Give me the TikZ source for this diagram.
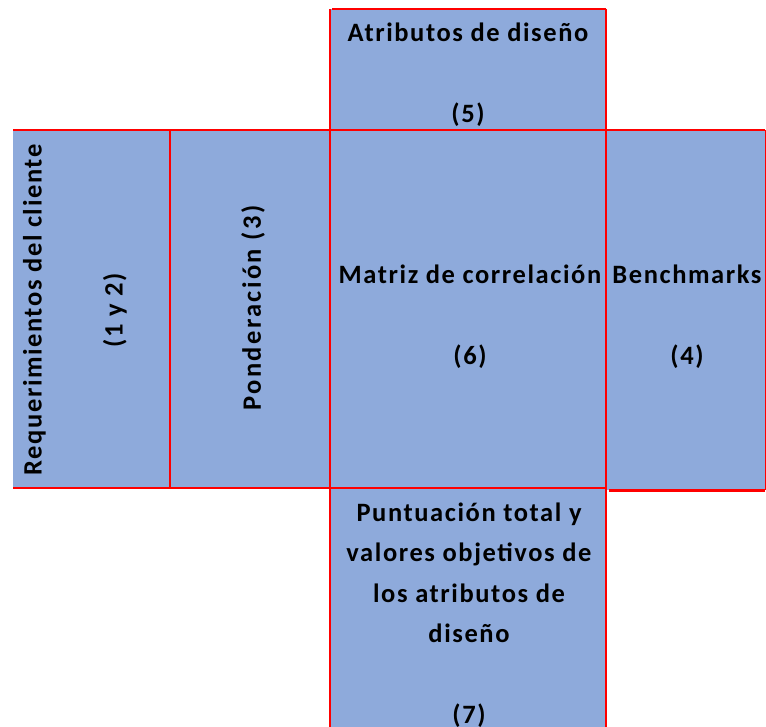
\documentclass[tikz,border=0pt]{standalone}
\usepackage{fontspec}
\setmainfont{Carlito}[LetterSpace=6]
\newfontfamily\widefont{Carlito}[LetterSpace=9]
\definecolor{boxblue}{RGB}{142,170,219}
\begin{document}
\begin{tikzpicture}[x=1pt,y=-1pt,
  box/.style={fill=boxblue, draw=none, inner sep=0pt, anchor=north west},
  lbl/.style={font=\bfseries\fontsize{26.5}{40.5}\selectfont, align=center, text=black, inner sep=0pt},
  redline/.style={draw=red, line width=2pt}]
\useasboundingbox (0,0) rectangle (766,727);
% boxes
\node[box, minimum width=276pt, minimum height=121pt] (b5) at (330,9) {};
\node[box, minimum width=157pt, minimum height=358pt] (b12) at (13,130) {};
\node[box, minimum width=160pt, minimum height=358pt] (b3) at (170,130) {};
\node[box, minimum width=276pt, minimum height=358pt] (b6) at (330,130) {};
\node[box, minimum width=159pt, minimum height=360pt] (b4) at (606,130) {};
\node[box, minimum width=276pt, minimum height=250pt] (b7) at (330,488) {};
% red borders
\draw[redline, line width=1.5pt] (b5.north west) ++(2,0) -- (b5.north east);
\draw[redline] (b5.north west) -- (b5.south west);
\draw[redline] (b5.north east) -- (b5.south east);
\draw[redline] (b12.north west) -- (b4.north east);
\draw[redline] (b12.south west) -- (b6.south east);
\draw[redline] (b3.north west) -- (b3.south west);
\draw[redline] (b6.north west) -- (b7.south west);
\draw[redline] (b6.north east) -- (b7.south east);
\draw[redline, line width=1.5pt] (b4.north east) -- (b4.south east);
\draw[redline, line width=2.5pt] (b4.south west) ++(3,0) -- (b4.south east);
% labels
\node[lbl] (t5) at (468,75) {Atributos de diseño\\[40.5pt](5)};
\node[lbl, rotate=90] (t12) at (75,310) {Requerimientos del cliente\\[40.5pt](1 y 2)};
\node[lbl, rotate=90, font=\widefont\bfseries\fontsize{26.5}{40.5}\selectfont] (t3) at (253,308) {Ponderación (3)};
\node[lbl] (t6) at (470,317) {Matriz de correlación\\[40.5pt](6)};
\node[lbl] (t4) at (687,317) {Benchmarks\\[40.5pt](4)};
\node[lbl] (t7) at (469,615) {Puntuación total y\\valores objetivos de\\los atributos de\\diseño\\[40.5pt](7)};
\end{tikzpicture}
\end{document}
